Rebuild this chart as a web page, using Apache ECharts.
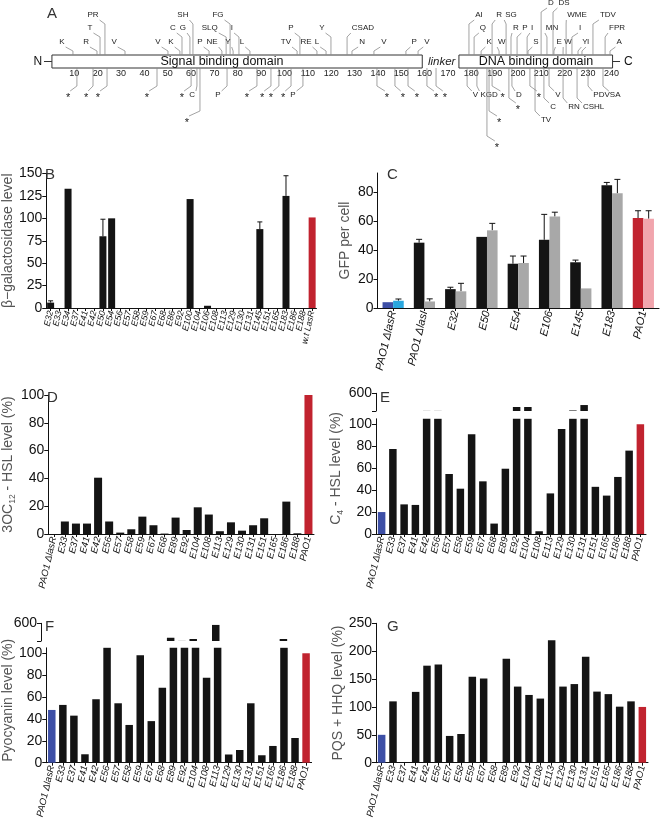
<!DOCTYPE html>
<html><head><meta charset="utf-8">
<script src="https://cdn.jsdelivr.net/npm/echarts@6/dist/echarts.min.js"></script>
<style>html,body{margin:0;padding:0;background:#fff}#c{width:660px;height:826px}</style>
</head><body><div id="c"></div>
<script>
// ---------------- Panel A data (residue positions) ----------------
const domainNames = ['Signal binding domain', 'DNA binding domain'];
const domainStart = [0.4, 174.7];
const domainEnd   = [159, 240.5];
const residueTicks = [10,20,30,40,50,60,70,80,90,100,110,120,130,140,150,160,170,180,190,200,210,220,230,240];
// [attach residue, label residue, row, text]
const mutAbove = [
 [9.4,4.7,1,'K'],[19.7,15,1,'R'],[21,16.7,2,'T'],[23.1,18,3,'PR'],[31.7,27,1,'V'],
 [50.1,45.8,1,'V'],[55.2,51.4,1,'K'],[56.1,52.2,2,'C'],[59.5,56.5,2,'G'],[60.8,56.5,3,'SH'],
 [67.7,63.8,1,'P'],[73.2,69,1,'NE'],[75,68,2,'SLQ'],[76.7,71.5,3,'FG'],[78,75.8,1,'Y'],
 [80.5,77.5,2,'I'],[85.2,81.8,1,'L'],[105.4,100.6,1,'TV'],[106.6,102.8,2,'P'],[113.9,109.2,1,'RE'],
 [117.8,113.9,1,'L'],[119.9,116,2,'Y'],[126.8,133.6,2,'CSAD'],[128.9,133.2,1,'N'],[138.3,142.6,1,'V'],
 [152,155.5,1,'P'],[157.2,161,1,'V'],[179,183.3,3,'AI'],[181.2,185,2,'Q'],[184.2,187.6,1,'K'],
 [188.9,191.9,3,'R'],[191.9,193.1,1,'W'],[194.9,197,3,'SG'],[197,199.1,2,'R'],[199.6,203,2,'P'],
 [203.9,206,2,'I'],[204.3,207.7,1,'S'],[209.9,214.1,4,'D'],[212.4,214.6,2,'MN'],[215,219.7,4,'DS'],
 [215.4,217.6,1,'E'],[219.3,221.4,1,'W'],[220.6,225.3,3,'WME'],[223.1,226.6,2,'I'],[225.7,228.7,1,'Y'],
 [227.4,230,1,'I'],[232.1,238.5,3,'TDV'],[237.3,242.4,2,'FPR'],[239.4,243.3,1,'A']
];
const mutBelow = [
 [11.1,7.3,1,'*'],[18,15,1,'*'],[24,20.1,1,'*'],[45.4,41.1,1,'*'],[60,56.1,1,'*'],
 [62.5,60.4,1,'C'],[63.8,58.2,3,'*'],[75.4,71.5,1,'P'],[88.2,83.9,1,'*'],[94.2,90.4,1,'*'],
 [97.6,94.2,1,'*'],[102.8,99.4,1,'*'],[107.9,103.6,1,'P'],[139.6,143.9,1,'*'],[147.3,150.7,1,'*'],
 [152.9,156.7,1,'*'],[161,164.9,1,'*'],[164.9,168.7,1,'*'],[178.2,181.8,1,'V'],[182.4,187.6,1,'KGD'],
 [188.9,193.4,1,'*'],[197.4,200.4,1,'D'],[196.1,200,2,'*'],[187.6,191.9,3,'*'],[186.7,191,4,'*'],
 [205.1,209,1,'*'],[207.3,212,3,'TV'],[213.3,217.1,1,'V'],[211.1,215,2,'C'],[219.3,224,2,'RN'],
 [225.3,232.4,2,'CSHL'],[230,235.8,1,'PDV'],[236.4,241.6,1,'SA']
];

// ---------------- Panel B ----------------
const catsB = ['E32','E33','E34','E37','E41','E42','E50','E54','E56','E57','E58','E59','E67','E68','E86','E92','E100','E104','E106','E108','E113','E129','E130','E131','E145','E151','E165','E183','E186','E188','w.t LasR'];
const valsB = [6,0,133,0,0,0,80,100,0,0,0,0,0,0,0,0,121.5,0,2.5,0,0,0,0,0,88,0,0,125,0,0,101];
const errB  = [8,null,null,null,null,null,99,null,null,null,null,null,null,null,null,null,null,null,null,null,null,null,null,null,96,null,null,147.5,null,null,null];
const ticksB = [0,25,50,75,100,125,150];

// ---------------- Panel C ----------------
const catsC = ['PAO1 \u0394lasR','PAO1 \u0394lasI','E32','E50','E54','E106','E145','E183','PAO1'];
const valsC1 = [4,45,13,49,30.5,47,31.5,84.5,62];
const errC1  = [null,47.3,14.3,null,35.8,64.5,33,86.5,67];
const valsC2 = [5,4.5,11.5,53.5,31,63,13.5,79,61.5];
const errC2  = [6.2,6.3,17,58.3,35.8,66,null,88.6,67];
const ticksC = [0,20,40,60,80];

// ---------------- Panels D-G ----------------
const catsDG = ['PAO1 \u0394lasR','E33','E37','E41','E42','E56','E57','E58','E59','E67','E68','E89','E92','E104','E108','E113','E129','E130','E131','E151','E165','E186','E188','PAO1'];
const valsD = [0,9,7.5,7.5,40.5,9,1,3.4,12.5,6.3,0.3,11.8,2.9,19.2,14,2,8.4,2.4,6.3,11.3,0,23.3,0.5,100];
const valsE = [20,77.5,27,26.5,113,113,54.7,41.3,91,48,9.5,59.5,220,220,2.5,37,95.7,125,275,43,35,52,76,100];
const valsF = [48.2,52.8,43,7.7,58,108,54.3,34.5,98.2,38,68.5,200,113,165,77.7,555,7.5,11.6,54.3,6.8,15.3,165,22.6,100];
const valsG = [50,110,0,127,174,176,48,51.5,154,151,0,186.5,136.5,121.5,115,219.5,136.5,141,190,127.5,123,100.5,110,100];
const ticksLow = [0,20,40,60,80,100];
const ticksHighLabel = [600];
const ticksHigh = [110,600];

// ---------------- layout / style ----------------
const FONT = 'Arial, "Liberation Sans", Helvetica, sans-serif';
const BOX_TOP = 55, BOX_BOT = 68;
const ROW_UP = [null, 42, 28, 15, 3];
const ROW_DN = [null, 95, 107, 120, 145];
const DOMAIN_TEXT_AT = [73.2, 207.7];
const LOW_MAX = 105, HIGH_MIN = 110, HIGH_MAX = 600;
const C_BLACK='#141414', C_RED='#c1232f', C_BLUE='#3d4fa6', C_LBLUE='#2aa7df', C_GRAY='#a8a8a8', C_PINK='#f1a5ad';

const mctx = document.createElement('canvas').getContext('2d');
function tw(t, font){ mctx.font = font; return mctx.measureText(t).width; }

const chart = echarts.init(document.getElementById('c'), null, {renderer:'canvas'});

const grids = [
  {left:51, top:0, width:607.1, height:68},            // 0 A
  {left:39.5, top:173.5, width:277, height:134.5},     // 1 B
  {left:377.5, top:173, width:281.5, height:135},      // 2 C
  {left:42, top:395, width:272, height:139},           // 3 D
  {left:376, top:418.8, width:270, height:115.2},      // 4 E low
  {left:376, top:393.3, width:270, height:17.7},       // 5 E high
  {left:41, top:647.8, width:270.6, height:114.9},     // 6 F low
  {left:41, top:623.3, width:270.6, height:17.7},      // 7 F high
  {left:376, top:623.3, width:272, height:139.4}       // 8 G
];

function catAxis(g, data, fs, show){
  return {type:'category', gridIndex:g, data:data, show:show!==false,
    axisLine:{lineStyle:{color:'#111', width:1}},
    axisTick:{show:true, alignWithLabel:true, length:3, lineStyle:{color:'#111'}},
    axisLabel:{interval:0, rotate:77, fontSize:fs, fontStyle:'italic', color:'#111', margin:3, fontFamily:FONT}};
}
function valAxis(g, min, max, ticks, labels, name, nameGap, extra){
  const a = {type:'value', gridIndex:g, min:min, max:max,
    axisLine:{show:true, lineStyle:{color:'#111', width:1}},
    axisTick:{show:true, length:4, lineStyle:{color:'#111'}, customValues:ticks},
    axisLabel:{fontSize:14, color:'#111', fontFamily:FONT, margin:4, customValues:labels||ticks},
    splitLine:{show:false}, name:name||'', nameLocation:'middle', nameGap:nameGap||30,
    nameTextStyle:{fontSize:14, color:'#555', fontFamily:FONT}};
  return Object.assign(a, extra||{});
}
function colorByName(def){
  return function(p){
    if (p.name === 'PAO1' || p.name === 'w.t LasR') return C_RED;
    if (p.name === 'PAO1 \u0394lasR') return C_BLUE;
    return def;
  };
}
function barSeries(g, data, width, color){
  return {type:'bar', xAxisIndex:g, yAxisIndex:g, data:data, barWidth:width, clip:true,
    itemStyle:{color:color}, silent:true, animation:false};
}
function errSeries(g, vals, errs, offset, cap){
  const data = vals.map((v,i)=>[i, v, errs[i] == null ? v : errs[i]]);
  return {type:'custom', xAxisIndex:g, yAxisIndex:g, data:data, encode:{x:0, y:[1,2]}, animation:false, silent:true,
    renderItem:function(params, api){
      const v = api.value(1), e = api.value(2);
      if (!(e > v)) return null;
      const p0 = api.coord([api.value(0), v]); const p1 = api.coord([api.value(0), e]);
      const x = p0[0] + offset;
      return {type:'group', children:[
        {type:'line', shape:{x1:x, y1:p0[1], x2:x, y2:p1[1]}, style:{stroke:'#111', lineWidth:1}},
        {type:'line', shape:{x1:x-cap, y1:p1[1], x2:x+cap, y2:p1[1]}, style:{stroke:'#111', lineWidth:1}}
      ]};
    }};
}
function annSeries(list, above){
  return {type:'custom', xAxisIndex:0, yAxisIndex:0, clip:false, animation:false, silent:true,
    data:list.map(d=>[d[0], d[1], (above?ROW_UP:ROW_DN)[d[2]]]), encode:{x:[0,1], y:2},
    renderItem:function(params, api){
      const d = list[params.dataIndex];
      const ax = api.coord([d[0], 0])[0];
      const lx = api.coord([d[1], 0])[0];
      const rowY = api.coord([0, api.value(2)])[1];
      const edgeY = api.coord([0, above ? BOX_TOP : BOX_BOT])[1];
      const isStar = d[3] === '*';
      const font = (isStar ? 11 : 8) + 'px ' + FONT;
      const hw = tw(d[3], font)/2 + (isStar ? 0 : 1);
      const ex = ax >= lx ? lx + hw : lx - hw;
      let pts;
      if (above) pts = [[ax, edgeY], [ax, Math.min(edgeY, rowY + 9)], [ex, rowY + 5]];
      else pts = [[ax, edgeY], [ax, Math.max(edgeY, rowY - 9)], [ex, rowY - 4]];
      return {type:'group', children:[
        {type:'polyline', shape:{points:pts}, style:{stroke:'#8c8c8c', lineWidth:0.8, fill:'none'}},
        {type:'text', x:lx, y:rowY + (isStar ? 2.5 : 0), style:{text:d[3], font:font, fill:'#222', align:'center', verticalAlign:'middle'}}
      ]};
    }};
}

const series = [];
// Panel A: domains
series.push({type:'custom', xAxisIndex:0, yAxisIndex:0, clip:false, animation:false, silent:true,
  data:domainStart.map((s,i)=>[s, domainEnd[i], BOX_TOP, BOX_BOT]), encode:{x:[0,1], y:[2,3]},
  renderItem:function(params, api){
    const i = params.dataIndex;
    const p0 = api.coord([api.value(0), api.value(2)]), p1 = api.coord([api.value(1), api.value(3)]);
    const tx = api.coord([DOMAIN_TEXT_AT[i], 0])[0];
    const my = (p0[1]+p1[1])/2;
    const ch = [
      {type:'rect', shape:{x:p0[0], y:p0[1], width:p1[0]-p0[0], height:p1[1]-p0[1]}, style:{fill:'#fff', stroke:'#333', lineWidth:1}},
      {type:'text', x:tx, y:my+0.5, style:{text:domainNames[i], font:'12.5px '+FONT, fill:'#111', align:'center', verticalAlign:'middle'}}
    ];
    if (i === 0) {
      const a = api.coord([-3, 0])[0];
      ch.push({type:'line', shape:{x1:a, y1:my, x2:p0[0], y2:my}, style:{stroke:'#333', lineWidth:1}});
      ch.push({type:'text', x:api.coord([-5.6,0])[0], y:my, style:{text:'N', font:'12px '+FONT, fill:'#111', align:'center', verticalAlign:'middle'}});
      ch.push({type:'text', x:api.coord([167.3,0])[0], y:my, style:{text:'linker', font:'italic 11.5px '+FONT, fill:'#222', align:'center', verticalAlign:'middle'}});
    } else {
      const b = api.coord([243.7, 0])[0];
      ch.push({type:'line', shape:{x1:p1[0], y1:my, x2:b, y2:my}, style:{stroke:'#333', lineWidth:1}});
      ch.push({type:'text', x:api.coord([247.2,0])[0], y:my, style:{text:'C', font:'12px '+FONT, fill:'#111', align:'center', verticalAlign:'middle'}});
    }
    return {type:'group', children:ch};
  }});
series.push(annSeries(mutAbove, true));
series.push(annSeries(mutBelow, false));

// Panel B
series.push(barSeries(1, valsB, 7, colorByName(C_BLACK)));
series.push(errSeries(1, valsB, errB, 0, 2.5));
// Panel C
const BWC = 10.6;
series.push({type:'bar', xAxisIndex:2, yAxisIndex:2, data:valsC1, barWidth:BWC, barGap:'0%', animation:false, silent:true,
  itemStyle:{color:function(p){ return p.dataIndex===0 ? C_BLUE : (p.dataIndex===8 ? C_RED : C_BLACK); }}});
series.push({type:'bar', xAxisIndex:2, yAxisIndex:2, data:valsC2, barWidth:BWC, barGap:'0%', animation:false, silent:true,
  itemStyle:{color:function(p){ return p.dataIndex===0 ? C_LBLUE : (p.dataIndex===8 ? C_PINK : C_GRAY); }}});
series.push(errSeries(2, valsC1, errC1, -BWC/2, 3));
series.push(errSeries(2, valsC2, errC2, BWC/2, 3));
// Panel D
series.push(barSeries(3, valsD, 8, colorByName(C_BLACK)));
// Panel E (broken axis)
series.push(barSeries(4, valsE, 7.5, colorByName(C_BLACK)));
series.push(barSeries(5, valsE.map(v => v > LOW_MAX ? v : null), 7.5, colorByName(C_BLACK)));
// Panel F (broken axis)
series.push(barSeries(6, valsF, 7.5, colorByName(C_BLACK)));
series.push(barSeries(7, valsF.map(v => v > LOW_MAX ? v : null), 7.5, colorByName(C_BLACK)));
// Panel G
series.push(barSeries(8, valsG, 7.5, colorByName(C_BLACK)));

const subRich = {
  t:{fontSize:14, color:'#555', fontFamily:FONT, lineHeight:18},
  s:{fontSize:8.5, color:'#555', fontFamily:FONT, lineHeight:10, verticalAlign:'bottom'}
};

const xAxes = [
  {type:'value', gridIndex:0, min:0, max:260, interval:10, axisLine:{show:false}, axisTick:{show:false}, splitLine:{show:false},
   axisLabel:{fontSize:9, color:'#222', fontFamily:FONT, margin:1, customValues:residueTicks}},
  catAxis(1, catsB, 8.8),
  catAxis(2, catsC, 11),
  catAxis(3, catsDG, 9.5),
  catAxis(4, catsDG, 9.5),
  catAxis(5, catsDG, 9.5, false),
  catAxis(6, catsDG, 9.5),
  catAxis(7, catsDG, 9.5, false),
  catAxis(8, catsDG, 9.5)
];
const yAxes = [
  {type:'value', gridIndex:0, min:0, max:68, inverse:true, show:false},
  valAxis(1, 0, 150, ticksB, null, '\u03b2\u2212galactosidase level', 26),
  valAxis(2, 0, 93, ticksC, null, 'GFP per cell', 25),
  valAxis(3, 0, 100, ticksLow, null, '{t|3OC}{s|12}{t| - HSL level (%)}', 27, {nameTextStyle:{rich:subRich}}),
  valAxis(4, 0, LOW_MAX, ticksLow, null, '{t|C}{s|4}{t| - HSL level (%)}', 28, {nameTextStyle:{rich:subRich, padding:[0,0,0,16]}}),
  valAxis(5, HIGH_MIN, HIGH_MAX, ticksHigh, ticksHighLabel),
  valAxis(6, 0, LOW_MAX, ticksLow, null, 'Pyocyanin level (%)', 24, {nameTextStyle:{fontSize:14, color:'#555', fontFamily:FONT, padding:[0,0,0,10]}}),
  valAxis(7, HIGH_MIN, HIGH_MAX, ticksHigh, ticksHighLabel),
  valAxis(8, 0, 250, [0,50,100,150,200,250], null, 'PQS + HHQ level (%)', 27)
];

function letter(t, l, top){ return {text:t, left:l, top:top, padding:0, textStyle:{fontSize:15, fontWeight:'normal', color:'#333', fontFamily:FONT}}; }

chart.setOption({
  animation:false,
  backgroundColor:'#fff',
  title:[letter('A',47,6), letter('B',45,167), letter('C',387,167), letter('D',47,390), letter('E',380,390), letter('F',45,619), letter('G',387,619)],
  grid:grids,
  xAxis:xAxes,
  yAxis:yAxes,
  series:series
});
</script></body></html>
